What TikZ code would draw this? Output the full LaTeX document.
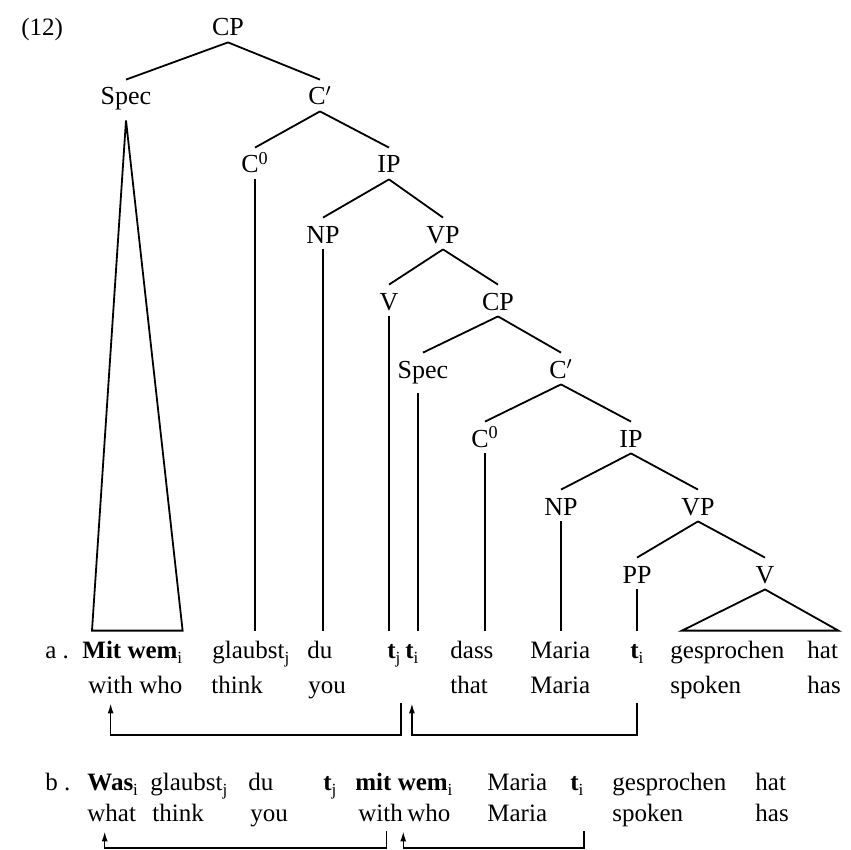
\documentclass[tikz,border=0pt]{standalone}
\usepackage{fontspec}
\setmainfont{Liberation Serif}
\usetikzlibrary{arrows.meta}
\newcommand\lowix[1]{\raisebox{-0.5ex}{\fontsize{8.5}{9}\selectfont #1}}

\begin{document}
\begin{tikzpicture}[
  x=0.5pt, y=-0.5pt,
  cat/.style={anchor=base, font=\fontsize{13}{15}\selectfont, inner sep=1.5pt, text height=11pt, text depth=1.5pt},
  spec/.style={cat, text depth=6pt},
  wd/.style={anchor=base west, font=\fontsize{12.5}{14}\selectfont, inner xsep=0pt, inner ysep=1.5pt, text height=12pt, text depth=3.5pt},
  br/.style={line width=0.9pt},
  mv/.style={line width=0.75pt, -{Latex[length=5pt,width=3pt]}}
]
\useasboundingbox (0,0) rectangle (851,850);

% example number
\node[wd] (exno) at (21,36) {(12)};

% tree
\node[cat] (cp) at (228,36) {CP};
\node[spec] (spec) at (126,105) {Spec};
\node[cat] (cbar) at (320,105) {C$'$};
\node[cat] (c0) at (255,173) {C\textsuperscript{0}};
\node[cat] (ip) at (389,173) {IP};
\node[cat] (np) at (323,243) {NP};
\node[cat] (vp) at (443,243) {VP};
\node[cat] (v) at (389,310) {V};
\node[cat] (cpb) at (498,310) {CP};
\node[spec] (specb) at (423,378) {Spec};
\node[cat] (cbarb) at (561,378) {C$'$};
\node[cat] (c0b) at (485,447) {C\textsuperscript{0}};
\node[cat] (ipb) at (631,447) {IP};
\node[cat] (npb) at (561,515) {NP};
\node[cat] (vpb) at (698,515) {VP};
\node[cat] (pp) at (637,583) {PP};
\node[cat] (vb) at (765,583) {V};

% (a) words and glosses
\node[wd] (la) at (45,658) {a .};
\node[wd] (mitwem) at (82,658) {\textbf{Mit wem}\lowix{i}};
\node[wd] (glaubst) at (212,658) {glaubst\lowix{j}};
\node[wd] (du) at (307,658) {du};
\node[wd] (tja) at (387,658) {\textbf{t}\lowix{j}};
\node[wd] (tia) at (405,658) {\textbf{t}\lowix{i}};
\node[wd] (dass) at (450,658) {dass};
\node[wd] (maria) at (530,658) {Maria};
\node[wd] (tib) at (630,658) {\textbf{t}\lowix{i}};
\node[wd] (gespr) at (670,658) {gesprochen};
\node[wd] (hat) at (807,658) {hat};

\node[wd] (aWith) at (88,693) {with};
\node[wd] (aWho) at (139,693) {who};
\node[wd] (aThink) at (211,693) {think};
\node[wd] (you) at (308,693) {you};
\node[wd] (aThat) at (450,693) {that};
\node[wd] (aMaria) at (530,693) {Maria};
\node[wd] (aSpoken) at (670,693) {spoken};
\node[wd] (aHas) at (807,693) {has};

% (b) words and glosses
\node[wd] (lb) at (45,790) {b .};
\node[wd] (was) at (87,790) {\textbf{Was}\lowix{i}};
\node[wd] (bGlaubst) at (150,790) {glaubst\lowix{j}};
\node[wd] (bDu) at (248,790) {du};
\node[wd] (btj) at (323,790) {\textbf{t}\lowix{j}};
\node[wd] (bMitwem) at (355,790) {\textbf{mit wem}\lowix{i}};
\node[wd] (bMaria) at (487,790) {Maria};
\node[wd] (btib) at (570,790) {\textbf{t}\lowix{i}};
\node[wd] (bGespr) at (612,790) {gesprochen};
\node[wd] (bHat) at (755,790) {hat};

\node[wd] (bWhat) at (87,821) {what};
\node[wd] (bThink) at (152,821) {think};
\node[wd] (bYou) at (250,821) {you};
\node[wd] (bWith) at (358,821) {with};
\node[wd] (bWho) at (407,821) {who};
\node[wd] (bMariaG) at (487,821) {Maria};
\node[wd] (bSpoken) at (612,821) {spoken};
\node[wd] (bHas) at (755,821) {has};

% branches
\draw[br] (cp.south) -- (spec.north);
\draw[br] (cp.south) -- (cbar.north);
\draw[br] (cbar.south) -- (c0.north);
\draw[br] (cbar.south) -- (ip.north);
\draw[br] (ip.south) -- (np.north);
\draw[br] (ip.south) -- (vp.north);
\draw[br] (vp.south) -- (v.north);
\draw[br] (vp.south) -- (cpb.north);
\draw[br] (cpb.south) -- (specb.north);
\draw[br] (cpb.south) -- (cbarb.north);
\draw[br] (cbarb.south) -- (c0b.north);
\draw[br] (cbarb.south) -- (ipb.north);
\draw[br] (ipb.south) -- (npb.north);
\draw[br] (ipb.south) -- (vpb.north);
\draw[br] (vpb.south) -- (pp.north);
\draw[br] (vpb.south) -- (vb.north);

% lines down to the words
\draw[br] (c0.south) -- (c0.south |- glaubst.north);
\draw[br] (np.south) -- (np.south |- du.north);
\draw[br] (v.south) -- (v.south |- tja.north);
\draw[br] ([xshift=-2.5pt]specb.south) -- ([xshift=-2.5pt]specb.south |- tia.north);
\draw[br] (c0b.south) -- (c0b.south |- dass.north);
\draw[br] (npb.south) -- (npb.south |- maria.north);
\draw[br] (pp.south) -- (pp.south |- tib.north);

% triangles
\draw[br] (spec.south) -- ([xshift=5pt]mitwem.north west) -- (mitwem.north east) -- cycle;
\draw[br] (vb.south) -- ([xshift=6pt]gespr.north west) -- (hat.north east) -- cycle;

% movement
\coordinate (raila) at (0,735);
\coordinate (railb) at (0,848);
\draw[mv] (tja.south east |- you.south) -- (tja.south east |- raila) -| (aWith.south);
\draw[mv] (tib.south |- you.south) -- (tib.south |- raila) -| (tia.south |- aWith.south);
\draw[mv] ([xshift=3pt]bWith.south) -- ([xshift=3pt]bWith.south |- railb) -| ([xshift=-3.5pt]bWhat.south);
\draw[mv] (btib.south east |- bWith.south) -- (btib.south east |- railb) -| (bWith.south east);
\end{tikzpicture}
\end{document}
